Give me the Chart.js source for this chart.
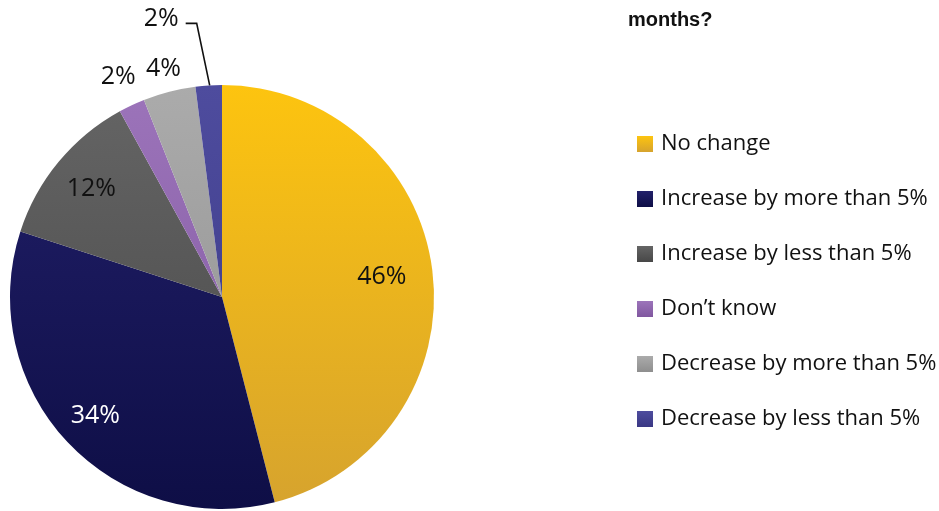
<!DOCTYPE html>
<html>
<head>
<meta charset="utf-8">
<script src="https://cdn.jsdelivr.net/npm/chart.js@4/dist/chart.umd.min.js"></script>
<style>
  html, body { margin: 0; padding: 0; background: #ffffff; }
  #wrap { width: 939px; height: 511px; position: relative; }
</style>
</head>
<body>
<div id="wrap"><canvas id="chart" width="939" height="511"></canvas></div>
<script>
// Survey responses
const categories = [
  'No change',
  'Increase by more than 5%',
  'Increase by less than 5%',
  'Don\u2019t know',
  'Decrease by more than 5%',
  'Decrease by less than 5%'
];
const shares = [46, 34, 12, 2, 4, 2];
const titleTail = 'months?';

// Slice shading: top and bottom colour of each vertical gradient
const topColors    = ['#FDC40F', '#22206A', '#656565', '#9C74BA', '#ABABAB', '#4E4C9E'];
const bottomColors = ['#D6A32E', '#0E0E46', '#474747', '#80579F', '#8E8E8E', '#3A3884'];

// Where each percentage sits, as a fraction of the radius, and its colour
const labelRadius = [0.76, 0.82, 0.80, 1.15, 1.11, null];
const labelColors = ['#111111', '#ffffff', '#111111', '#111111', '#111111', '#111111'];

const FONT = '"Open Sans", "DejaVu Sans", sans-serif';

function sliceFill(context) {
  const i = context.dataIndex;
  const chart = context.chart;
  const area = chart.chartArea;
  if (!area) return topColors[i];
  const g = chart.ctx.createLinearGradient(0, area.top, 0, area.bottom);
  g.addColorStop(0, topColors[i]);
  g.addColorStop(1, bottomColors[i]);
  return g;
}

// Percentage labels, leader line, legend and heading
const decorations = {
  id: 'decorations',
  afterDatasetsDraw(chart) {
    const c = chart.ctx;
    const meta = chart.getDatasetMeta(0);
    c.save();
    c.font = '400 25px ' + FONT;
    c.textAlign = 'center';
    c.textBaseline = 'middle';
    meta.data.forEach((arc, i) => {
      const p = arc.getProps(['x', 'y', 'startAngle', 'endAngle', 'outerRadius'], true);
      const mid = (p.startAngle + p.endAngle) / 2;
      const text = shares[i] + '%';
      c.fillStyle = labelColors[i];
      if (labelRadius[i] !== null) {
        const r = p.outerRadius * labelRadius[i];
        c.fillText(text, p.x + Math.cos(mid) * r, p.y + Math.sin(mid) * r);
      } else {
        // small slice at the top: label with an elbow leader
        const ex = p.x + Math.cos(mid) * p.outerRadius;
        const ey = p.y + Math.sin(mid) * p.outerRadius;
        const kx = ex - 12, ky = ey - 62;
        c.strokeStyle = '#111111';
        c.lineWidth = 1.6;
        c.beginPath();
        c.moveTo(ex + 1, ey);
        c.lineTo(kx, ky);
        c.lineTo(kx - 11, ky);
        c.stroke();
        c.textAlign = 'right';
        c.fillText(text, kx - 18, ky - 5);
        c.textAlign = 'center';
      }
    });

    // legend
    c.font = '400 22px ' + FONT;
    c.textAlign = 'left';
    c.textBaseline = 'middle';
    categories.forEach((name, i) => {
      const y = 144 + i * 55;
      const g = c.createLinearGradient(0, y - 8, 0, y + 8);
      g.addColorStop(0, topColors[i]);
      g.addColorStop(1, bottomColors[i]);
      c.fillStyle = g;
      c.fillRect(637, y - 8, 16, 16);
      c.fillStyle = '#111111';
      c.fillText(name, 661, y);
    });

    // heading tail
    c.font = 'bold 20px "Liberation Sans Narrow", "Liberation Sans", sans-serif';
    c.textBaseline = 'alphabetic';
    c.fillText(titleTail, 628, 26);
    c.restore();
  }
};

new Chart(document.getElementById('chart'), {
  type: 'pie',
  data: {
    labels: categories,
    datasets: [{
      data: shares,
      backgroundColor: sliceFill,
      borderWidth: 0
    }]
  },
  options: {
    responsive: false,
    animation: false,
    layout: { padding: { left: 10, right: 505, top: 85, bottom: 2 } },
    plugins: {
      legend: { display: false },
      tooltip: { enabled: false },
      title: { display: false }
    }
  },
  plugins: [decorations]
});
</script>
</body>
</html>
